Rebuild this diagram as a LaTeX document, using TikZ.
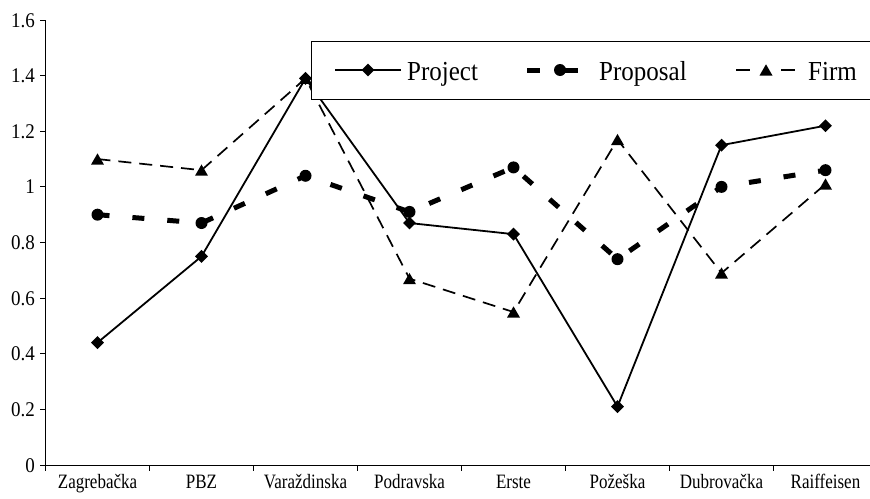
\documentclass[tikz,border=0pt]{standalone}
\usepackage{fontspec}
\setmainfont{Liberation Serif}
\usetikzlibrary{shapes.geometric}
\newcommand{\tallA}[1]{\scalebox{1}[1.2]{#1}}
\newcommand{\tallB}[1]{\scalebox{1}[1.1]{#1}}
\newcommand{\tallC}[1]{\scalebox{1}[1.1]{#1}}
\begin{document}
\begin{tikzpicture}[x=1pt,y=-1pt,
  axisline/.style={line width=1pt, black},
  projline/.style={line width=1.8pt, black, line join=round},
  propline/.style={line width=5pt, black, dash pattern=on 12pt off 23pt},
  firmline/.style={line width=1.7pt, black, dash pattern=on 13pt off 8pt},
  dmark/.style={diamond, fill=black, inner sep=0pt, minimum size=13pt},
  cmark/.style={circle, fill=black, inner sep=0pt, minimum size=12pt},
  tmark/.style={regular polygon, regular polygon sides=3, fill=black, inner sep=0pt, minimum size=15pt, yshift=-1.8pt},
  ylab/.style={anchor=base east, inner sep=0pt, font=\fontsize{19}{19}\selectfont},
  xlab/.style={anchor=base, inner sep=0pt, font=\fontsize{17}{17}\selectfont},
  leglab/.style={anchor=base west, inner sep=0pt, font=\fontsize{25}{25}\selectfont}]
\useasboundingbox (0,0) rectangle (870,498);
% axes
\draw[axisline] (45.5,20) -- (45.5,465) -- (870,465);
\foreach \k/\t in {0/0,1/0.2,2/0.4,3/0.6,4/0.8,5/1,6/1.2,7/1.4,8/1.6}{
  \draw[axisline] (40,{465-55.625*\k}) -- (45.5,{465-55.625*\k});
  \node[ylab] (yl\k) at (35,{465-55.625*\k+7}) {\tallC{\t}};
}
\foreach \k in {0,...,7}{
  \draw[axisline] ({45.5+104*\k},465) -- ({45.5+104*\k},471);
}
\foreach \k/\t in {0/Zagrebačka,1/PBZ,2/Varaždinska,3/Podravska,4/Erste,5/Požeška,6/Dubrovačka,7/Raiffeisen}{
  \node[xlab] (xl\k) at ({97.5+104*\k},488) {\tallA{\t}};
}
% data
\begin{scope}[shift={(97.5,465)}, x=104pt, y=278.125pt]
\foreach \i/\a/\b/\c in {1/0.44/0.90/1.10, 2/0.75/0.87/1.06, 3/1.39/1.04/1.39, 4/0.87/0.91/0.67, 5/0.83/1.07/0.55, 6/0.21/0.74/1.17, 7/1.15/1.00/0.69, 8/1.22/1.06/1.01}{
  \coordinate (J\i) at ({\i-1},\a);
  \coordinate (P\i) at ({\i-1},\b);
  \coordinate (F\i) at ({\i-1},\c);
}
\end{scope}
\draw[firmline] (F1) -- (F2) -- (F3) -- (F4) -- (F5) -- (F6) -- (F7) -- (F8);
\draw[propline] (P1) -- (P2) -- (P3) -- (P4) -- (P5) -- (P6) -- (P7) -- (P8);
\draw[projline] (J1) -- (J2) -- (J3) -- (J4) -- (J5) -- (J6) -- (J7) -- (J8);
\foreach \i in {1,...,8}{
  \node[tmark] (mF\i) at (F\i) {};
  \node[cmark] (mP\i) at (P\i) {};
  \node[dmark] (mJ\i) at (J\i) {};
}
% legend
\draw[line width=1pt, fill=white] (311,41) rectangle (885,99);
\coordinate (la) at (335,70); \coordinate (lb) at (401,70);
\draw[projline] (la) -- (lb);
\node[dmark] (lgJ) at (368,70) {};
\node[leglab] (tJ) at (407,80) {\tallB{Project}};
\coordinate (lc) at (527,70); \coordinate (ld) at (540,70);
\coordinate (le) at (560,70); \coordinate (lf) at (578,70);
\draw[line width=5pt] (lc) -- (ld);
\draw[line width=5pt] (le) -- (lf);
\node[cmark] (lgP) at (le) {};
\node[leglab] (tP) at (599,80) {\tallB{Proposal}};
\coordinate (lg) at (736,70); \coordinate (lh) at (750,70);
\coordinate (li) at (781,70); \coordinate (lj) at (795,70);
\draw[line width=1.7pt] (lg) -- (lh);
\draw[line width=1.7pt] (li) -- (lj);
\node[tmark] (lgF) at (766,70) {};
\node[leglab] (tF) at (808,80) {\tallB{Firm}};
\end{tikzpicture}
\end{document}
